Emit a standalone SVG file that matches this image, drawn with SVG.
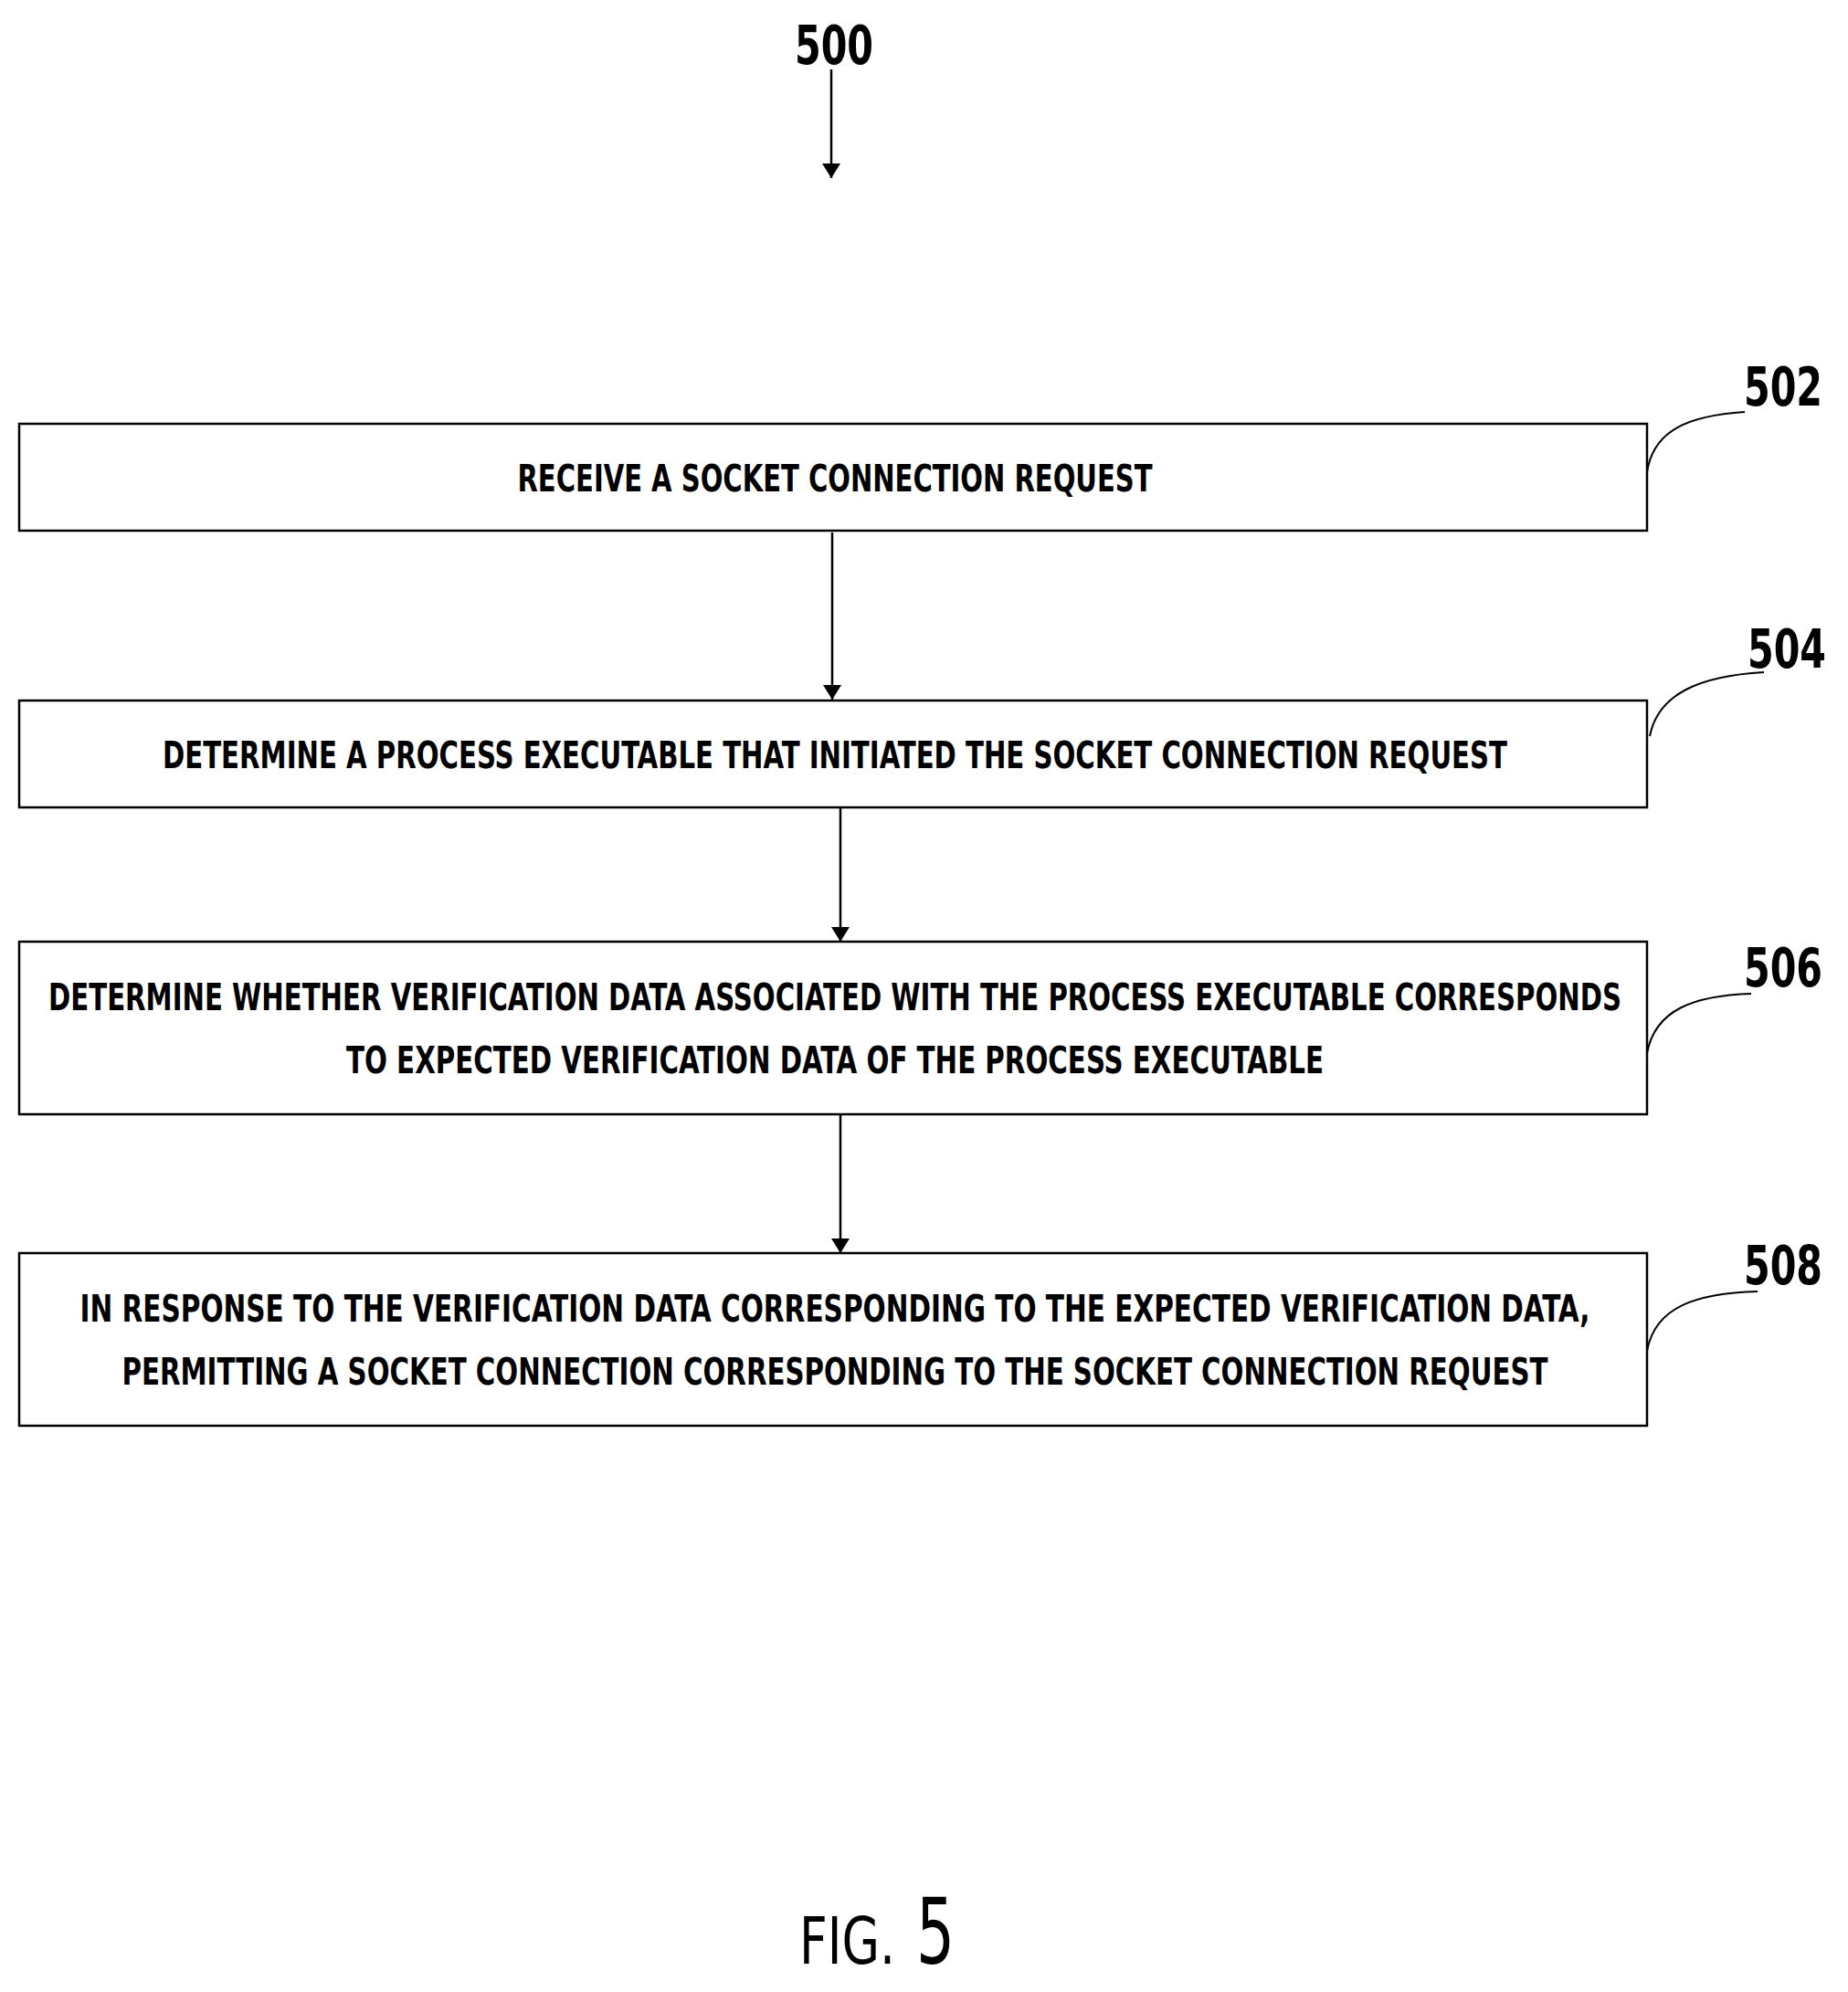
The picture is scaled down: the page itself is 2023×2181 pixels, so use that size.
<svg xmlns="http://www.w3.org/2000/svg" width="2023" height="2181" viewBox="0 0 2023 2181">
<style>
.box{fill:#fff;stroke:#000;stroke-width:2.5}
.t{font-family:"DejaVu Sans Condensed","Liberation Sans",sans-serif;font-weight:bold;font-size:40px;text-anchor:middle}
.lbl{font-family:"DejaVu Sans Condensed","Liberation Sans",sans-serif;font-weight:bold;font-size:58px;text-anchor:middle}
.c{fill:none;stroke:#000;stroke-width:2}
.a{stroke:#000;stroke-width:2.5;marker-end:url(#ar)}
</style>
<defs><marker id="ar" markerWidth="16" markerHeight="20" refX="16" refY="10" orient="auto" markerUnits="userSpaceOnUse"><path d="M0,0 L16,10 L0,20 Z" fill="#000"/></marker></defs>
<rect width="2023" height="2181" fill="#fff"/>
<text class="lbl" x="913" y="70" textLength="86" lengthAdjust="spacingAndGlyphs">500</text>
<g id="connectors">
<line class="a" x1="910" y1="76" x2="910" y2="195"/>
<line class="a" x1="911" y1="583" x2="911" y2="766"/>
<line class="a" x1="920" y1="884" x2="920" y2="1031"/>
<line class="a" x1="920" y1="1220" x2="920" y2="1372"/>
</g>
<g id="n502"><rect class="box" x="21" y="464" width="1782" height="117"/>
<text class="t" x="914" y="538" textLength="695" lengthAdjust="spacingAndGlyphs">RECEIVE A SOCKET CONNECTION REQUEST</text>
<path class="c" d="M1803,517 C1810,470 1850,455 1910,451"/>
<text class="lbl" x="1952" y="444" textLength="86" lengthAdjust="spacingAndGlyphs">502</text></g>
<g id="n504"><rect class="box" x="21" y="767" width="1782" height="117"/>
<text class="t" x="914" y="841" textLength="1472" lengthAdjust="spacingAndGlyphs">DETERMINE A PROCESS EXECUTABLE THAT INITIATED THE SOCKET CONNECTION REQUEST</text>
<path class="c" d="M1806,806 C1815,760 1860,740 1931,736"/>
<text class="lbl" x="1956" y="731" textLength="86" lengthAdjust="spacingAndGlyphs">504</text></g>
<g id="n506"><rect class="box" x="21" y="1031" width="1782" height="189"/>
<text class="t" x="914" y="1106" textLength="1722" lengthAdjust="spacingAndGlyphs">DETERMINE WHETHER VERIFICATION DATA ASSOCIATED WITH THE PROCESS EXECUTABLE CORRESPONDS</text>
<text class="t" x="914" y="1175" textLength="1070" lengthAdjust="spacingAndGlyphs">TO EXPECTED VERIFICATION DATA OF THE PROCESS EXECUTABLE</text>
<path class="c" d="M1803,1153 C1812,1105 1855,1090 1917,1088"/>
<text class="lbl" x="1952" y="1080" textLength="86" lengthAdjust="spacingAndGlyphs">506</text></g>
<g id="n508"><rect class="box" x="21" y="1372" width="1782" height="189"/>
<text class="t" x="914" y="1447" textLength="1653" lengthAdjust="spacingAndGlyphs">IN RESPONSE TO THE VERIFICATION DATA CORRESPONDING TO THE EXPECTED VERIFICATION DATA,</text>
<text class="t" x="914" y="1516" textLength="1561" lengthAdjust="spacingAndGlyphs">PERMITTING A SOCKET CONNECTION CORRESPONDING TO THE SOCKET CONNECTION REQUEST</text>
<path class="c" d="M1803,1479 C1812,1430 1858,1416 1924,1414"/>
<text class="lbl" x="1952" y="1406" textLength="86" lengthAdjust="spacingAndGlyphs">508</text></g>
<text x="875" y="2150" font-family="DejaVu Sans Condensed,Liberation Sans,sans-serif" font-size="72" textLength="105" lengthAdjust="spacingAndGlyphs">FIG.</text>
<text x="1003" y="2150" font-family="DejaVu Sans Condensed,Liberation Sans,sans-serif" font-size="100" textLength="42" lengthAdjust="spacingAndGlyphs">5</text>
</svg>
